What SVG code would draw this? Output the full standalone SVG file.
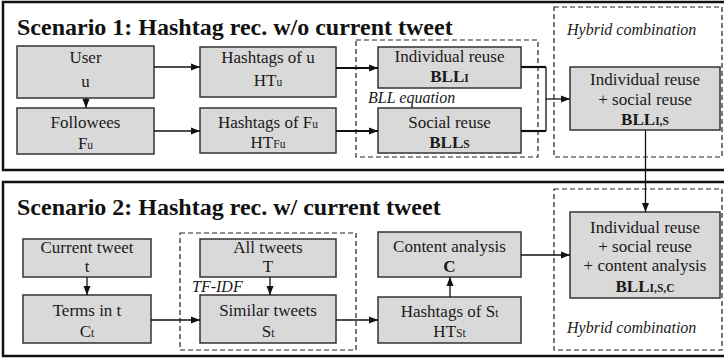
<svg xmlns="http://www.w3.org/2000/svg" width="724" height="361" viewBox="0 0 724 361" font-family="'Liberation Serif', 'Times New Roman', Times, 'DejaVu Serif', serif">
<style>
.frame{fill:none;stroke:#111;stroke-width:2.5}
.box{fill:#d9d9d9;stroke:#333;stroke-width:1.5}
.dash{fill:none;stroke:#222;stroke-width:1.2;stroke-dasharray:5,3}
text{fill:#1a1a1a}
.t{font-size:17px;text-anchor:middle}
.b{font-weight:bold}
.ti{font-size:16px;font-style:italic}
.title{font-size:24px;font-weight:bold;fill:#111}
.s{font-size:11.5px}
.conn path{fill:none;stroke:#111;stroke-width:1.3}
.conn path.thick{stroke-width:2.2}
</style>
<defs>
<marker id="ah" markerUnits="userSpaceOnUse" markerWidth="9" markerHeight="8" refX="9" refY="4" orient="auto">
<path d="M0,0.5 L9,4 L0,7.5 z" fill="#111"/>
</marker>
</defs>
<rect width="724" height="361" fill="#fff"/>

<g id="frame1">
<rect class="frame" x="3" y="2" width="730" height="168"/>
<text class="title" x="17" y="35">Scenario 1: Hashtag rec. w/o current tweet</text>
</g>
<g id="frame2">
<rect class="frame" x="3" y="182" width="730" height="174"/>
<text class="title" x="17" y="215">Scenario 2: Hashtag rec. w/ current tweet</text>
</g>

<g id="bll-equation">
<rect class="dash" x="356" y="40" width="182" height="117"/>
<text class="ti" x="368" y="103">BLL equation</text>
</g>
<g id="hybrid1">
<rect class="dash" x="554" y="7" width="168" height="150"/>
<text class="ti" x="567" y="35">Hybrid combination</text>
</g>
<g id="tfidf">
<rect class="dash" x="180" y="233" width="176" height="117"/>
<text class="ti" x="192" y="292">TF-IDF</text>
</g>
<g id="hybrid2">
<rect class="dash" x="554" y="189" width="168" height="161"/>
<text class="ti" x="567" y="333">Hybrid combination</text>
</g>

<g id="user">
<rect class="box" x="17" y="46" width="137" height="52"/>
<text class="t" x="85.5" y="63">User</text>
<text class="t" x="85.5" y="87">u</text>
</g>
<g id="followees">
<rect class="box" x="17" y="108" width="137" height="46"/>
<text class="t" x="85.5" y="128">Followees</text>
<text class="t" x="85.5" y="149">F<tspan class="s">u</tspan></text>
</g>
<g id="hashtags-u">
<rect class="box" x="200" y="47" width="136" height="50"/>
<text class="t" x="268" y="63">Hashtags of u</text>
<text class="t" x="268" y="86">HT<tspan class="s">u</tspan></text>
</g>
<g id="hashtags-fu">
<rect class="box" x="200" y="108" width="136" height="45"/>
<text class="t" x="268" y="128">Hashtags of F<tspan class="s">u</tspan></text>
<text class="t" x="268" y="148">HT<tspan class="s">Fu</tspan></text>
</g>
<g id="individual">
<rect class="box" x="378" y="47" width="143" height="41"/>
<text class="t" x="449.5" y="62">Individual reuse</text>
<text class="t b" x="449.5" y="82">BLL<tspan class="s">I</tspan></text>
</g>
<g id="social">
<rect class="box" x="378" y="108" width="143" height="45"/>
<text class="t" x="449.5" y="128">Social reuse</text>
<text class="t b" x="449.5" y="148">BLL<tspan class="s">S</tspan></text>
</g>
<g id="combined1">
<rect class="box" x="570" y="67" width="150" height="63"/>
<text class="t" x="645" y="85">Individual reuse</text>
<text class="t" x="645" y="105">+ social reuse</text>
<text class="t b" x="645" y="125">BLL<tspan class="s">I,S</tspan></text>
</g>

<g id="current-tweet">
<rect class="box" x="23" y="239" width="128" height="38"/>
<text class="t" x="87" y="253">Current tweet</text>
<text class="t" x="87" y="272">t</text>
</g>
<g id="terms">
<rect class="box" x="23" y="295" width="128" height="48"/>
<text class="t" x="87" y="316">Terms in t</text>
<text class="t" x="87" y="337">C<tspan class="s">t</tspan></text>
</g>
<g id="all-tweets">
<rect class="box" x="200" y="239" width="136" height="38"/>
<text class="t" x="268" y="253">All tweets</text>
<text class="t" x="268" y="272">T</text>
</g>
<g id="similar">
<rect class="box" x="200" y="295" width="136" height="48"/>
<text class="t" x="268" y="316">Similar tweets</text>
<text class="t" x="268" y="337">S<tspan class="s">t</tspan></text>
</g>
<g id="content">
<rect class="box" x="378" y="232" width="143" height="45"/>
<text class="t" x="449.5" y="252">Content analysis</text>
<text class="t b" x="449.5" y="272">C</text>
</g>
<g id="hashtags-st">
<rect class="box" x="378" y="297" width="143" height="46"/>
<text class="t" x="449.5" y="317">Hashtags of S<tspan class="s">t</tspan></text>
<text class="t" x="449.5" y="337">HT<tspan class="s">St</tspan></text>
</g>
<g id="combined2">
<rect class="box" x="570" y="212" width="150" height="86"/>
<text class="t" x="645" y="233">Individual reuse</text>
<text class="t" x="645" y="252">+ social reuse</text>
<text class="t" x="645" y="271">+ content analysis</text>
<text class="t b" x="645" y="292">BLL<tspan class="s">I,S,C</tspan></text>
</g>

<g id="connectors" class="conn">
<path d="M154,67 H200" marker-end="url(#ah)"/>
<path d="M86,98 V108" marker-end="url(#ah)"/>
<path d="M154,131 H200" marker-end="url(#ah)"/>
<path class="thick" d="M336,68 H378" marker-end="url(#ah)"/>
<path class="thick" d="M336,131 H378" marker-end="url(#ah)"/>
<path class="thick" d="M521,67 H546"/>
<path class="thick" d="M521,131 H546"/>
<path d="M546,67 V131"/>
<path d="M546,99 H570" marker-end="url(#ah)"/>
<path d="M645.5,130 V212" marker-end="url(#ah)"/>
<path d="M87,277 V295" marker-end="url(#ah)"/>
<path d="M270,277 V295" marker-end="url(#ah)"/>
<path d="M151,320 H200" marker-end="url(#ah)"/>
<path d="M336,320 H378" marker-end="url(#ah)"/>
<path d="M450,297 V277" marker-end="url(#ah)"/>
<path d="M521,255 H570" marker-end="url(#ah)"/>
</g>
</svg>
